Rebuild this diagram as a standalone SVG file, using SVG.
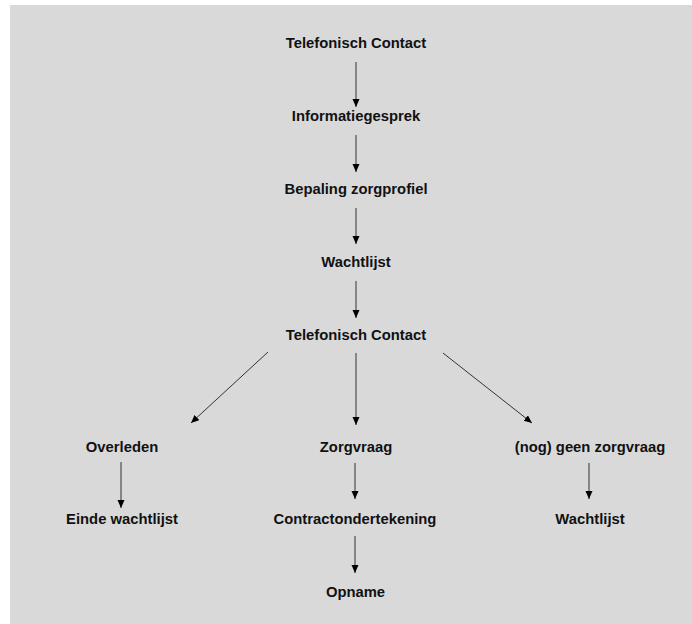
<svg xmlns="http://www.w3.org/2000/svg" width="692" height="624" viewBox="0 0 692 624">
<style>
.t{font-family:"Liberation Sans",Arial,sans-serif;font-weight:bold;font-size:14.8px;fill:#111;text-anchor:middle}
.c{stroke:#333;stroke-width:1;fill:none;marker-end:url(#ah)}
</style>
<defs>
<marker id="ah" markerUnits="userSpaceOnUse" markerWidth="8" markerHeight="8" refX="8" refY="3.5" orient="auto">
<path d="M0,0 L8,3.5 L0,7 z" fill="#000"/>
</marker>
</defs>
<rect x="10" y="5" width="682" height="619" fill="#d9d9d9"/>
<g id="n1"><text class="t" x="356" y="48">Telefonisch Contact</text></g>
<g id="n2"><text class="t" x="356" y="121">Informatiegesprek</text></g>
<g id="n3"><text class="t" x="356" y="194">Bepaling zorgprofiel</text></g>
<g id="n4"><text class="t" x="356" y="267">Wachtlijst</text></g>
<g id="n5"><text class="t" x="356" y="340">Telefonisch Contact</text></g>
<g id="n6"><text class="t" x="122" y="452">Overleden</text></g>
<g id="n7"><text class="t" x="356" y="452">Zorgvraag</text></g>
<g id="n8"><text class="t" x="590" y="452">(nog) geen zorgvraag</text></g>
<g id="n9"><text class="t" x="122" y="524">Einde wachtlijst</text></g>
<g id="n10"><text class="t" x="355" y="524">Contractondertekening</text></g>
<g id="n11"><text class="t" x="590" y="524">Wachtlijst</text></g>
<g id="n12"><text class="t" x="355.5" y="597">Opname</text></g>
<g id="connectors">
<line class="c" x1="356" y1="62" x2="356" y2="107"/>
<line class="c" x1="356" y1="135" x2="356" y2="172"/>
<line class="c" x1="356" y1="208" x2="356" y2="244"/>
<line class="c" x1="356" y1="281" x2="356" y2="318"/>
<line class="c" x1="268" y1="352" x2="191" y2="423"/>
<line class="c" x1="356" y1="353" x2="356" y2="425"/>
<line class="c" x1="443" y1="353" x2="532" y2="423"/>
<line class="c" x1="121" y1="462" x2="121" y2="508"/>
<line class="c" x1="355" y1="463" x2="355" y2="499"/>
<line class="c" x1="589" y1="463" x2="589" y2="499"/>
<line class="c" x1="355" y1="536" x2="355" y2="573"/>
</g>
</svg>
